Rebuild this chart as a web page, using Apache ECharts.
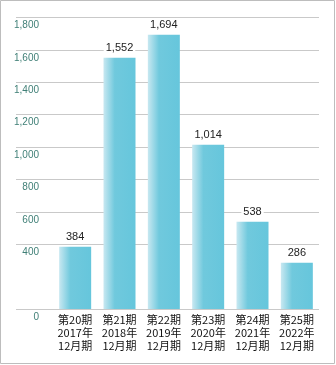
<!DOCTYPE html>
<html>
<head>
<meta charset="utf-8">
<script src="https://cdn.jsdelivr.net/npm/echarts@6/dist/echarts.min.js"></script>
<style>
  html, body { margin: 0; padding: 0; background: #fff; }
  #chart { width: 336px; height: 365px; }
</style>
</head>
<body>
<div id="chart"></div>
<script>
// Fiscal periods and values
const categories = [
  '第20期\n2017年\n12月期',
  '第21期\n2018年\n12月期',
  '第22期\n2019年\n12月期',
  '第23期\n2020年\n12月期',
  '第24期\n2021年\n12月期',
  '第25期\n2022年\n12月期'
];
const values = [384, 1552, 1694, 1014, 538, 286];
const yMin = 0;
const yMax = 1800;
const yStep = 200;
const hiddenTicks = [200];

const chart = echarts.init(document.getElementById('chart'), null, { renderer: 'canvas' });

// Grid line colours: one per tick, transparent where the tick is skipped
const lineColors = [];
for (let v = yMin; v <= yMax; v += yStep) {
  lineColors.push(hiddenTicks.indexOf(v) >= 0 ? 'rgba(0,0,0,0)' : '#c9c9c9');
}

const GRID_TOP = 17.5, GRID_BOTTOM = 56, GRID_RIGHT = 17;

chart.setOption({
  animation: false,
  graphic: [{
    type: 'rect',
    shape: { x: 0.5, y: 0.5, width: 334, height: 363 },
    style: { fill: 'none', stroke: '#bdbdbd', lineWidth: 1 },
    silent: true
  }],
  grid: [
    { left: 16, right: GRID_RIGHT, top: GRID_TOP, bottom: GRID_BOTTOM },
    { left: 53, right: GRID_RIGHT, top: GRID_TOP, bottom: GRID_BOTTOM }
  ],
  xAxis: [
    { gridIndex: 0, type: 'category', data: [''], show: false },
    {
      gridIndex: 1,
      type: 'category',
      data: categories,
      axisLine: { show: false },
      axisTick: { show: false },
      axisLabel: {
        margin: 4,
        fontSize: 11,
        lineHeight: 13,
        color: '#111',
        fontFamily: 'Noto Sans CJK JP',
        interval: 0
      }
    }
  ],
  yAxis: [
    {
      gridIndex: 0,
      type: 'value',
      min: yMin,
      max: yMax,
      interval: yStep,
      axisLine: { show: false },
      axisTick: { show: false },
      splitLine: { show: true, lineStyle: { color: lineColors, width: 1 } },
      axisLabel: {
        inside: true,
        align: 'right',
        verticalAlign: 'top',
        margin: 23,
        padding: [3, 0, 0, 0],
        fontSize: 10,
        color: '#3f7f76',
        fontFamily: 'Liberation Sans',
        formatter: function (v) {
          if (hiddenTicks.indexOf(v) >= 0) return '';
          return v.toLocaleString('en-US');
        }
      }
    },
    { gridIndex: 1, type: 'value', min: yMin, max: yMax, interval: yStep, show: false }
  ],
  series: [{
    type: 'bar',
    xAxisIndex: 1,
    yAxisIndex: 1,
    data: values,
    barWidth: 32,
    itemStyle: {
      color: new echarts.graphic.LinearGradient(0, 0, 1, 0, [
        { offset: 0, color: '#c8e8f1' },
        { offset: 0.35, color: '#70c9dd' },
        { offset: 1, color: '#66c6dc' }
      ])
    },
    label: {
      show: true,
      position: 'top',
      distance: 4,
      fontSize: 11,
      color: '#222',
      fontFamily: 'Liberation Sans',
      backgroundColor: '#fff',
      padding: [0, 2, 0, 2],
      formatter: function (p) { return p.value.toLocaleString('en-US'); }
    }
  }]
});
</script>
</body>
</html>
